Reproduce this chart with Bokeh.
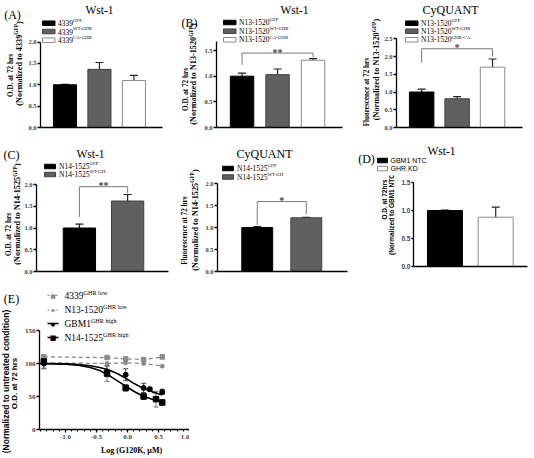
from math import pi
from bokeh.plotting import figure
from bokeh.models import (Label, BoxAnnotation, Whisker, TeeHead, FixedTicker,
                          PrintfTickFormatter, ColumnDataSource, Range1d)
from bokeh.layouts import column, row
from bokeh.embed import file_html
from bokeh.resources import INLINE

# ---------------- data ----------------
a_labels = [("4339", "GFP"), ("4339", "WT-GHR"), ("4339", "CA-GHR")]
a_vals = [1.00, 1.36, 1.10]
a_errs = [0.01, 0.16, 0.12]

b_labels = [("N13-1520", "GFP"), ("N13-1520", "WT-GHR"), ("N13-1520", "CA-GHR")]
b_vals = [1.00, 1.03, 1.31]
b_errs = [0.06, 0.11, 0.03]

c_labels = [("N13-1520", "GFP"), ("N13-1520", "WT-GHR"), ("N13-1520", "GHR-CA")]
c_vals = [1.00, 0.81, 1.70]
c_errs = [0.08, 0.06, 0.23]

cl_labels = [("N14-1525", "GFP"), ("N14-1525", "WT-GH")]
cl_vals = [1.00, 1.62]
cl_errs = [0.09, 0.15]

cm_labels = [("N14-1525", "GFP"), ("N14-1525", "WT-GH")]
cm_vals = [1.00, 1.22]
cm_errs = [0.02, 0.01]

d_labels = ["GBM1 NTC", "GHR KD"]
d_vals = [1.00, 0.88]
d_errs = [0.005, 0.18]

# significance brackets: (x_left, x_right, y_left_foot, y_bar, y_right_foot, text)
b_sig = (1, 3, 1.22, 1.45, 1.37, "**")
c_sig = (1, 3, 1.83, 2.22, 2.00, "*")
cl_sig = (1, 2, 1.25, 1.95, 1.80, "**")
cm_sig = (1, 2, 1.06, 1.59, 1.30, "*")

# panel E : log(G120K, uM) vs O.D. (% of untreated)
e_labels = [("4339", "GHR low"), ("N13-1520", "GHR low"), ("GBM1", "GHR high"), ("N14-1525", "GHR high")]
e_4339_x = [-1.35, -0.33, -0.03, 0.26, 0.56]
e_4339_y = [110, 109, 107, 106, 110]
e_n13_x = [-1.35, -0.33, -0.03, 0.26, 0.56]
e_n13_y = [101, 100, 101, 100, 96]
e_gbm1_x = [-1.35, -0.33, -0.03, 0.26, 0.36, 0.56]
e_gbm1_y = [100, 88, 83, 63, 61, 57]
e_gbm1_err = [8, 8, 9, 7, 3, 4]
e_n14_x = [-1.35, -0.33, -0.03, 0.26, 0.46, 0.56]
e_n14_y = [103, 85, 63, 50, 46, 41]
e_n14_err = [10, 12, 5, 4, 12, 4]
gbm1_fit_x = [-1.42, -1.0, -0.8, -0.6, -0.45, -0.3, -0.15, 0.0, 0.1, 0.2, 0.3, 0.4, 0.5, 0.56]
gbm1_fit_y = [100, 99.5, 98.5, 96.5, 94, 90, 84, 76, 70, 65, 61, 57, 54, 52.5]
n14_fit_x = [-1.42, -1.0, -0.8, -0.6, -0.45, -0.3, -0.15, 0.0, 0.1, 0.2, 0.3, 0.4, 0.5, 0.56]
n14_fit_y = [100, 99, 97.5, 94, 89.5, 82, 73, 64, 58, 53, 49, 46, 43, 42]

# ---------------- helpers ----------------
SERIF = "Liberation Serif"
SANS = "Liberation Sans"
BLACK = "#000000"
GREY = "#606060"
LGREY = "#8a8a8a"

TIMES = {' ': 250, '(': 333, ')': 333, '-': 333, '.': 250, ',': 250,
         'A': 722, 'B': 667, 'C': 667, 'D': 722, 'E': 611, 'F': 556, 'G': 722, 'H': 722,
         'I': 333, 'K': 722, 'L': 611, 'M': 889, 'N': 722, 'O': 722, 'P': 556, 'Q': 722,
         'R': 667, 'S': 556, 'T': 611, 'U': 722, 'W': 944,
         'a': 444, 'b': 500, 'c': 444, 'd': 500, 'e': 444, 'f': 333, 'g': 500, 'h': 500,
         'i': 278, 'l': 278, 'm': 778, 'n': 500, 'o': 500, 'r': 333, 's': 389, 't': 278,
         'u': 500, 'w': 722, 'y': 500, 'z': 444}
TIMES_B = {' ': 250, '(': 333, ')': 333, '-': 333, '.': 250, ',': 250,
           'A': 722, 'B': 667, 'C': 722, 'D': 722, 'E': 667, 'F': 611, 'G': 778, 'H': 778,
           'I': 389, 'K': 778, 'L': 667, 'M': 944, 'N': 722, 'O': 778, 'P': 611, 'Q': 778,
           'R': 722, 'S': 556, 'T': 667, 'U': 722, 'W': 1000,
           'a': 500, 'b': 556, 'c': 444, 'd': 556, 'e': 444, 'f': 333, 'g': 500, 'h': 556,
           'i': 278, 'l': 278, 'm': 833, 'n': 556, 'o': 500, 'r': 444, 's': 389, 't': 333,
           'u': 556, 'w': 722, 'y': 500, 'z': 444}
ARIAL = {' ': 278, '(': 333, ')': 333, '-': 333, '.': 278,
         'A': 667, 'B': 667, 'C': 722, 'D': 722, 'G': 778, 'H': 722, 'K': 667, 'M': 833,
         'N': 722, 'O': 778, 'R': 722, 'T': 611,
         'a': 556, 'c': 500, 'd': 556, 'e': 556, 'h': 556, 'i': 222, 'l': 222, 'm': 833,
         'n': 556, 'o': 556, 'r': 333, 's': 500, 't': 278, 'u': 556, 'z': 500}
ARIAL_B = {' ': 278, '(': 333, ')': 333, '-': 333, '.': 278,
           'A': 722, 'B': 722, 'C': 722, 'D': 722, 'G': 778, 'H': 722, 'K': 722, 'M': 833,
           'N': 722, 'O': 778, 'R': 722, 'T': 611,
           'a': 556, 'c': 556, 'd': 611, 'e': 556, 'h': 611, 'i': 278, 'l': 278, 'm': 889,
           'n': 611, 'o': 611, 'r': 389, 's': 556, 't': 333, 'u': 611, 'z': 500}


def tw(text, size, font, bold):
    if font == SERIF:
        table, dflt = (TIMES_B if bold else TIMES), 500
    else:
        table, dflt = (ARIAL_B if bold else ARIAL), 556
    return sum(table.get(ch, dflt) for ch in text) / 1000.0 * size


GEOM = {}


def _fig(w, h, **kw):
    p = figure(width=w, height=h, toolbar_location=None, output_backend="svg", tools="", **kw)
    p.outline_line_color = None
    p.background_fill_color = "white"
    p.border_fill_color = "white"
    return p


def make_blank(x0, x1, y0, y1):
    """blank canvas (page pixel box) used to host texts"""
    p = _fig(x1 - x0, y1 - y0, x_axis_type=None, y_axis_type=None, min_border=0,
             x_range=Range1d(0, 1), y_range=Range1d(0, 1))
    GEOM[id(p)] = (x0, y0, 0, 0, y1 - y0)
    return p


def make_panel(x0, x1, y0, y1, ax, ay, tick_y, tick_v, ybound, xlo, xhi, xend, bound_x=True):
    w, h = x1 - x0, y1 - y0
    L = ax - x0
    B = y1 - ay
    H, W = h - B, w - L
    yscale = (ay - tick_y) / tick_v
    xscale = (xend - ax) / (xhi - xlo)
    p = _fig(w, h, x_range=Range1d(xlo, xlo + W / xscale), y_range=Range1d(0, H / yscale),
             min_border_left=L, min_border_right=0, min_border_top=0, min_border_bottom=B)
    p.xgrid.visible = False
    p.ygrid.visible = False
    p.yaxis.bounds = (0, ybound)
    if bound_x:
        p.xaxis.bounds = (xlo, xhi)
    GEOM[id(p)] = (x0, y0, L, 0, H)
    return p


def to_screen(p, x, y):
    ox, oy, L, T, H = GEOM[id(p)]
    return (x - ox) - L, (T + H) - (y - oy)


def lab(p, x, y, text, size, font=SERIF, style="normal", align="center",
        baseline="middle", angle=0.0, color="black"):
    sx, sy = to_screen(p, x, y)
    p.add_layout(Label(x=sx, y=sy, x_units="screen", y_units="screen", text=text,
                       text_font=font, text_font_size="%.1fpx" % size,
                       text_font_style=style, text_align=align, text_baseline=baseline,
                       angle=angle, text_color=color))


def rich(p, x, y, segs, size, font=SERIF, style="normal", vertical=False, anchor="left"):
    ssup = size * 0.65
    widths = [tw(t, ssup if s else size, font, style == "bold") for t, s in segs]
    total = sum(widths)
    if vertical:
        pos = y + (total / 2 if anchor == "center" else 0)
    else:
        pos = x - (total / 2 if anchor == "center" else 0)
    for (t, s), w in zip(segs, widths):
        sz = ssup if s else size
        if vertical:
            lab(p, x - (0.36 * size if s else 0), pos, t, sz, font, style, "left", "middle", pi / 2)
            pos -= w
        else:
            lab(p, pos, y - (0.36 * size if s else 0), t, sz, font, style, "left", "middle")
            pos += w


def box(p, x0, x1, y, hh, fill, line, dash="solid", lw=1.0):
    l, b = to_screen(p, x0, y + hh / 2)
    r, t = to_screen(p, x1, y - hh / 2)
    p.add_layout(BoxAnnotation(left=l, right=r, bottom=b, top=t,
                               left_units="screen", right_units="screen",
                               top_units="screen", bottom_units="screen",
                               fill_color=fill, fill_alpha=1 if fill else 0,
                               line_color=line, line_alpha=1, line_width=lw, line_dash=dash))


def style_y(p, ticks, font, fmt="%.1f", size=6.5, tick_out=3, standoff=1):
    ax = p.yaxis[0]
    ax.ticker = FixedTicker(ticks=ticks)
    ax.formatter = PrintfTickFormatter(format=fmt)
    ax.major_label_text_font = font
    ax.major_label_text_font_style = "bold"
    ax.major_label_text_font_size = "%.1fpx" % size
    ax.major_tick_out = tick_out
    ax.major_tick_in = 0
    ax.minor_tick_out = 0
    ax.minor_tick_in = 0
    ax.major_label_standoff = standoff
    ax.axis_line_width = 1.3
    ax.major_tick_line_width = 1.3


def style_x_bar(p):
    ax = p.xaxis[0]
    ax.ticker = FixedTicker(ticks=[])
    ax.major_label_text_font_size = "0px"
    ax.major_tick_out = 0
    ax.major_tick_in = 0
    ax.minor_tick_out = 0
    ax.minor_tick_in = 0
    ax.major_label_standoff = 0
    ax.axis_line_width = 1.3


def bars(p, vals, errs, fills, lines, width):
    xs = list(range(1, len(vals) + 1))
    src = ColumnDataSource(dict(x=xs, top=vals, up=[v + e for v, e in zip(vals, errs)],
                                fill=fills, line=lines))
    p.vbar(x="x", top="top", bottom=0, width=width, fill_color="fill", line_color="line",
           line_width=1, source=src)
    p.add_layout(Whisker(base="x", lower="top", upper="up", source=src, line_color="#222222",
                         line_width=1.2, lower_head=None,
                         upper_head=TeeHead(size=8, line_color="#222222", line_width=1.2)))


def bracket(p, sig):
    x0, x1, yl, yb, yr, txt = sig
    p.line([x0, x0, x1, x1], [yl, yb, yb, yr], line_color="#7a7a7a", line_width=1)
    p.add_layout(Label(x=(x0 + x1) / 2, y=yb, text=txt, text_font=SERIF,
                       text_font_style="bold", text_font_size="10px",
                       text_align="center", text_baseline="alphabetic", y_offset=1))


def ylab2(host1, x1, c1, t1, s1, host2, x2, c2, segs2, s2, font=SERIF):
    rich(host1, x1, c1, [(t1, False)], s1, font=font, style="bold", vertical=True, anchor="center")
    rich(host2, x2, c2, segs2, s2, font=font, style="bold", vertical=True, anchor="center")


FILL3 = [BLACK, GREY, "white"]
LINE3 = [BLACK, "#404040", LGREY]
NORM = lambda name: [("(Normalized to " + name, False), ("GFP", True), (")", False)]

# ---------------- Row 1 (y 0..133) ----------------
spA = make_blank(0, 24, 0, 133)
pA = make_panel(24, 200, 0, 133, 40, 127, 41.5, 2.0, 2.0, 0.29, 3.83, 162)
pB = make_panel(200, 381, 0, 133, 216, 127, 50, 1.5, 1.68, 0.28, 3.83, 342)
pC = make_panel(381, 534, 0, 133, 394, 127, 38.3, 2.5, 2.5, 0.29, 3.85, 522)

for p, vals, errs, ticks, w in ((pA, a_vals, a_errs, [0, 0.5, 1.0, 1.5, 2.0], 0.67),
                                (pB, b_vals, b_errs, [0, 0.5, 1.0, 1.5], 0.66),
                                (pC, c_vals, c_errs, [0, 0.5, 1.0, 1.5, 2.0, 2.5], 0.69)):
    bars(p, vals, errs, FILL3, LINE3, w)
    style_y(p, ticks, SERIF)
    style_x_bar(p)
bracket(pB, b_sig)
bracket(pC, c_sig)

lab(spA, 12, 20, "(A)", 12)
lab(pA, 99, 9, "Wst-1", 11.5)
lab(pA, 189, 22, "(B)", 12)
lab(pB, 294, 9, "Wst-1", 11.5)
lab(pC, 448, 9, "CyQUANT", 12)
for host, labels, sx0, rows in ((pA, a_labels, 42, [22.7, 31.0, 39.7]),
                                (pB, b_labels, 223, [22.0, 30.7, 39.3]),
                                (pC, c_labels, 403, [22.7, 30.7, 39.3])):
    for i, (base, sup) in enumerate(labels):
        box(host, sx0, sx0 + 12.5, rows[i], 4.5, FILL3[i], LINE3[i])
        rich(host, sx0 + 15.5, rows[i], [(base, False), (sup, True)], 7.5)

ylab2(spA, 10.5, 81, "O.D. at 72 hrs", 7.2, spA, 18.5, 69, NORM("4339"), 8.2)
ylab2(pA, 185, 89, "O.D. at 72 hrs", 7.2, pA, 193, 73.5, NORM("N13-1520"), 8.2)
ylab2(pB, 366, 91.5, "Fluorescence at 72 hrs", 7.2, pB, 376, 69, NORM("N13-1520"), 8.2)

# ---------------- Row 2 (y 133..275) ----------------
spCL = make_blank(0, 21, 133, 275)
pCL = make_panel(21, 201, 133, 275, 33, 271, 184, 2.0, 2.0, 0.11, 2.84, 167)
pCM = make_panel(201, 350, 133, 275, 217, 271, 183, 2.0, 2.0, 0.19, 2.84, 347)
dTop = make_blank(350, 534, 133, 175)
dLeft = make_blank(350, 398, 175, 275)
pD = make_panel(398, 534, 175, 275, 410, 266, 182, 1.5, 1.5, 0.38, 2.63, 527)

for p, vals, errs, w in ((pCL, cl_vals, cl_errs, 0.67), (pCM, cm_vals, cm_errs, 0.63)):
    bars(p, vals, errs, FILL3[:2], LINE3[:2], w)
    style_y(p, [0, 0.5, 1.0, 1.5, 2.0], SERIF)
    style_x_bar(p)
bracket(pCL, cl_sig)
bracket(pCM, cm_sig)
bars(pD, d_vals, d_errs, [BLACK, "white"], [BLACK, LGREY], 0.69)
style_y(pD, [0, 0.5, 1.0, 1.5], SANS, size=6.5, tick_out=2)
style_x_bar(pD)

lab(spCL, 11, 158, "(C)", 12)
lab(pCL, 87, 153, "Wst-1", 11.5)
lab(pCM, 264, 153, "CyQUANT", 12)
lab(dTop, 366, 158, "(D)", 12)
lab(dTop, 441, 150, "Wst-1", 11.5)
for host, labels, sx0, rows in ((pCL, cl_labels, 41, [166.0, 174.0]),
                                (pCM, cm_labels, 222, [168.0, 176.5])):
    for i, (base, sup) in enumerate(labels):
        box(host, sx0, sx0 + 11, rows[i], 4.5, FILL3[i], LINE3[i])
        rich(host, sx0 + 14.5, rows[i], [(base, False), (sup, True)], 7.5)
for i, name in enumerate(d_labels):
    ry = [160.0, 168.0][i]
    box(dTop, 377, 387, ry, 4.5, [BLACK, "white"][i], [BLACK, LGREY][i])
    lab(dTop, 390, ry, name, 7, SANS, "normal", "left", "middle")

ylab2(spCL, 8.5, 238, "O.D. at 72 hrs", 7.2, spCL, 17, 217.5, NORM("N14-1525"), 8.2)
ylab2(pCL, 181, 230, "Fluorescence at 72 hrs", 7.2, pCL, 191.5, 219.5, NORM("N14-1525"), 8.2)
ylab2(dLeft, 384, 208, "O.D. at 72hrs", 6.5,
      dLeft, 391, 222, [("(Normalized to GBM1 NTC)", False)], 6.5, font=SANS)

# ---------------- Row 3 (y 275..458) ----------------
spE = make_blank(0, 21, 275, 458)
pE = make_panel(21, 189, 275, 443, 37, 429, 330, 150, 150, -1.42, 1.0, 189, bound_x=False)
eStrip = make_blank(21, 189, 443, 458)
pE.line(e_4339_x, e_4339_y, line_color=LGREY, line_width=1.3, line_dash="4 3")
pE.scatter(e_4339_x, e_4339_y, marker="square", size=4.5, color=LGREY)
pE.line(e_n13_x, e_n13_y, line_color=LGREY, line_width=1.3, line_dash="4 3")
pE.scatter(e_n13_x, e_n13_y, marker="asterisk", size=5, line_color=LGREY, line_width=1.2)
pE.line(gbm1_fit_x, gbm1_fit_y, line_color=BLACK, line_width=1.6)
pE.line(n14_fit_x, n14_fit_y, line_color=BLACK, line_width=1.6)
src_g = ColumnDataSource(dict(x=e_gbm1_x, y=e_gbm1_y,
                              lo=[v - e for v, e in zip(e_gbm1_y, e_gbm1_err)],
                              hi=[v + e for v, e in zip(e_gbm1_y, e_gbm1_err)]))
src_n = ColumnDataSource(dict(x=e_n14_x, y=e_n14_y,
                              lo=[v - e for v, e in zip(e_n14_y, e_n14_err)],
                              hi=[v + e for v, e in zip(e_n14_y, e_n14_err)]))
for src, col in ((src_g, "#444444"), (src_n, "#777777")):
    pE.add_layout(Whisker(base="x", lower="lo", upper="hi", source=src, line_color=col,
                          line_width=1, lower_head=TeeHead(size=5, line_color=col, line_width=1),
                          upper_head=TeeHead(size=5, line_color=col, line_width=1)))
pE.scatter("x", "y", source=src_g, marker="circle", size=5, color=BLACK)
pE.scatter("x", "y", source=src_n, marker="square", size=5.5, color=BLACK)

style_y(pE, [0, 50, 100, 150], SERIF, fmt="%d", size=7)
axx = pE.xaxis[0]
axx.ticker = FixedTicker(ticks=[-1.0, -0.5, 0.0, 0.5, 1.0],
                         minor_ticks=[round(-1.4 + 0.1 * k, 1) for k in range(25)])
axx.formatter = PrintfTickFormatter(format="%.1f")
axx.major_label_text_font = SERIF
axx.major_label_text_font_style = "bold"
axx.major_label_text_font_size = "7px"
axx.major_tick_out = 3
axx.major_tick_in = 0
axx.minor_tick_out = 2
axx.minor_tick_in = 0
axx.major_label_standoff = 2
axx.axis_line_width = 1.3
axx.major_tick_line_width = 1.3
axx.minor_tick_line_width = 1

lab(eStrip, 113, 450, "Log (G120K, \u03bcM)", 8, SERIF, "bold")
lab(spE, 11, 298, "(E)", 12)
e_rows = [295.0, 309.5, 323.0, 337.0]
for i, (base, sup) in enumerate(e_labels):
    ry = e_rows[i]
    if i < 2:
        box(pE, 45, 56, ry, 0, None, LGREY, dash="2 2", lw=1.2)
    else:
        box(pE, 45, 56, ry, 0, None, BLACK, lw=1.4)
    mk = ["\u25a0", "*", "\u25cf", "\u25a0"][i]
    msz = [5.5, 9, 5, 7][i]
    mcol = [LGREY, LGREY, BLACK, BLACK][i]
    lab(pE, 50.5, ry + (2 if i == 1 else 0), mk, msz, "DejaVu Sans" if i != 1 else SERIF,
        "bold", "center", "middle", color=mcol)
    rich(pE, 62, ry, [(base, False), (sup, True)], 9.5)
ylab2(spE, 13.5, 383, "O.D. at 72 hrs", 8,
      spE, 5, 381, [("(Normalized to untreated condition)", False)], 8.5, font=SANS)

layout = column(row(spA, pA, pB, pC),
                row(spCL, pCL, pCM, column(dTop, row(dLeft, pD))),
                row(spE, column(pE, eStrip)))

open("out.html", "w").write(file_html(layout, INLINE))
